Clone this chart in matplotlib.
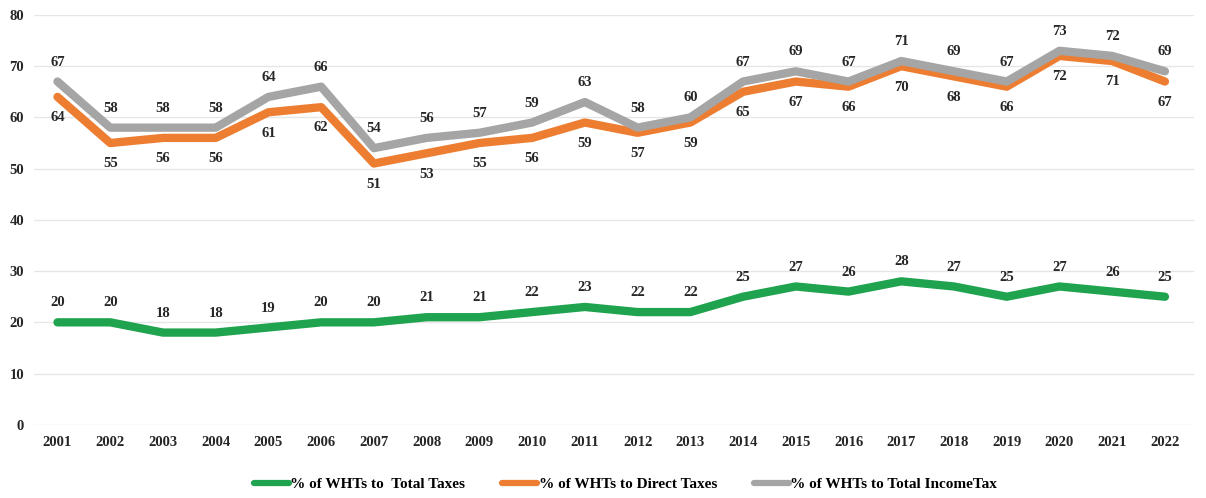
import matplotlib.pyplot as plt
import numpy as np

years = [str(y) for y in range(2001, 2023)]
wht_total_taxes = [20, 20, 18, 18, 19, 20, 20, 21, 21, 22, 23, 22, 22, 25, 27, 26, 28, 27, 25, 27, 26, 25]
wht_direct_taxes = [64, 55, 56, 56, 61, 62, 51, 53, 55, 56, 59, 57, 59, 65, 67, 66, 70, 68, 66, 72, 71, 67]
wht_income_tax = [67, 58, 58, 58, 64, 66, 54, 56, 57, 59, 63, 58, 60, 67, 69, 67, 71, 69, 67, 73, 72, 69]

plt.rcParams['font.family'] = ['Liberation Serif', 'DejaVu Serif']
plt.rcParams['font.weight'] = 'bold'

fig = plt.figure(figsize=(12.06, 4.98), dpi=100)
ax = fig.add_axes([0.028, 0.147, 0.962, 0.823])

x = np.arange(len(years))
series = [
    (wht_total_taxes, '#1fa34f', '% of WHTs to  Total Taxes', 'above'),
    (wht_direct_taxes, '#ed7d31', '% of WHTs to Direct Taxes', 'below'),
    (wht_income_tax, '#a5a5a5', '% of WHTs to Total IncomeTax', 'above'),
]

for vals, color, label, pos in series:
    ax.plot(x, vals, color=color, linewidth=6, solid_joinstyle='round',
            solid_capstyle='round', label=label, zorder=3)
    for xi, v in zip(x, vals):
        dy = 14 if pos == 'above' else -15
        ax.annotate(str(v), (xi, v), xytext=(0, dy), textcoords='offset points',
                    ha='center', va='center', fontsize=10.5, fontweight='bold',
                    color='#262626', zorder=4)

ax.set_xlim(-0.45, len(years) - 0.45)
ax.set_ylim(0, 80)
ax.set_yticks(range(0, 81, 10))
ax.set_xticks(x)
ax.set_xticklabels(years)
ax.tick_params(axis='both', length=0, labelsize=10.5, colors='#262626')
ax.tick_params(axis='x', pad=8)
ax.tick_params(axis='y', pad=7)
for lbl in ax.get_xticklabels() + ax.get_yticklabels():
    lbl.set_fontweight('bold')

ax.grid(axis='y', color='#e6e6e6', linewidth=1)
ax.set_axisbelow(True)
for s in ax.spines.values():
    s.set_visible(False)

leg = ax.legend(loc='upper center', bbox_to_anchor=(0.51, -0.095), ncol=3,
                frameon=False, fontsize=11, handlelength=2.3, handletextpad=0.1,
                columnspacing=2.4)
for line in leg.get_lines():
    line.set_linewidth(4.5)
for t in leg.get_texts():
    t.set_fontweight('bold')

fig.savefig('out.png', dpi=100)
